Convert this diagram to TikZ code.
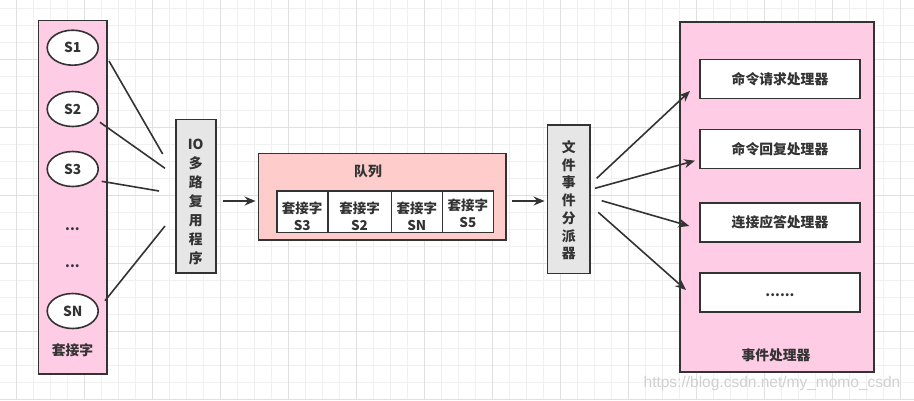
\documentclass[tikz,border=0pt]{standalone}
\usepackage{fontspec}
\setmainfont{Noto Sans CJK SC}
\newfontfamily\wmfont{Liberation Sans}
\usetikzlibrary{arrows.meta,shapes.geometric}
\definecolor{stroke}{HTML}{333333}
\definecolor{pinkfill}{HTML}{FFCCE6}
\definecolor{queuefill}{HTML}{FFCCCC}
\definecolor{grayfill}{HTML}{E6E6E6}
\definecolor{gridminor}{HTML}{F0F0F0}
\definecolor{gridmajor}{HTML}{E0E0E0}
\definecolor{wmcolor}{HTML}{D0D0D0}
\begin{document}
\begin{tikzpicture}[x=1pt,y=-1pt,
  box/.style={draw=stroke, line width=1.6pt, inner sep=0pt, anchor=center},
  lbl/.style={font=\fontsize{13.8}{15}\selectfont\bfseries, text=stroke, inner sep=0pt, align=center},
  cell/.style={lbl, font=\fontsize{13.5}{17}\selectfont\bfseries},
  conn/.style={draw=stroke, line width=1.6pt},
  arr/.style={conn, -{Stealth[length=11pt,width=9pt]}}]
\useasboundingbox (0,0) rectangle (914,400);
\fill[white] (0,0) rectangle (914,400);
% grid
\foreach \i in {0,...,53} {\draw[gridminor, line width=0.8pt] ({16.3+17*\i},0) -- ({16.3+17*\i},400);}
\foreach \i in {0,...,23} {\draw[gridminor, line width=0.8pt] (0,{8.3+17*\i}) -- (914,{8.3+17*\i});}
\foreach \i in {0,...,13} {\draw[gridmajor, line width=0.9pt] ({16.3+68*\i},0) -- ({16.3+68*\i},400);}
\foreach \i in {0,...,5} {\draw[gridmajor, line width=0.9pt] (0,{59.3+68*\i}) -- (914,{59.3+68*\i});}

% sockets column
\node[box, fill=pinkfill, minimum width=68.4pt, minimum height=353.3pt] (col) at (72.5,197.3) {};
\foreach \n/\y/\t in {s1/47.7/S1, s2/109/S2, s3/169/S3, sn/311/SN}
  {\node[box, ellipse, fill=white, minimum width=51pt, minimum height=35pt] (\n) at (72.7,\y) {};
   \node[lbl] (\n t) at (72.7,\y) {\t};}
\node[lbl] (dots1) at (72.5,229) {...};
\node[lbl] (dots2) at (72.5,266) {...};
\node[lbl] (colt) at (72.5,350) {套接字};

% IO box
\node[box, fill=grayfill, minimum width=40pt, minimum height=153.4pt] (io) at (195.7,196) {};
\node[lbl, font=\fontsize{13.8}{19}\selectfont\bfseries] (iot) at (195.7,201.5) {IO\\多\\路\\复\\用\\程\\序};

% socket lines
\coordinate (e1) at (162.7,154);
\coordinate (e2) at (165,168.3);
\coordinate (e3) at (159,191);
\coordinate (e4) at (165,226);
\draw[conn] (109,61) -- (e1);
\draw[conn] (100,122.3) -- (e2);
\draw[conn] (101.7,181.3) -- (e3);
\draw[conn] (105,300.7) -- (e4);

% queue
\node[box, fill=queuefill, minimum width=247.7pt, minimum height=86.7pt] (queue) at (382.2,196.7) {};
\node[lbl] (queuet) at (368,171.7) {队列};
\node[box, fill=white, minimum width=51pt, minimum height=41.7pt] (c1) at (302.2,211.8) {};
\node[box, fill=white, minimum width=63.6pt, minimum height=41.7pt] (c2) at (359.5,211.8) {};
\node[box, fill=white, minimum width=51pt, minimum height=41.7pt] (c3) at (416.8,211.8) {};
\node[box, fill=white, minimum width=51pt, minimum height=41.7pt] (c4) at (467.8,211.8) {};
\node[cell] at (302.2,216) {套接字\\S3};
\node[cell] at (359.5,216) {套接字\\S2};
\node[cell] at (416.8,216) {套接字\\SN};
\node[cell] at (467.8,213) {套接字\\S5};

% dispatcher
\node[box, fill=grayfill, minimum width=42.7pt, minimum height=148.3pt] (disp) at (568.7,199.2) {};
\node[lbl, font=\fontsize{13.8}{17.7}\selectfont\bfseries] (dispt) at (568.7,200.3) {文\\件\\事\\件\\分\\派\\器};

\draw[arr, shorten <=6pt, shorten >=2pt] (io.east |- 0,201) -- (queue.west |- 0,201);
\draw[arr, shorten <=5pt, shorten >=2pt] (queue.east |- 0,201) -- (disp.west |- 0,201);

% handlers
\node[box, fill=pinkfill, minimum width=194pt, minimum height=350pt] (hd) at (777,196.7) {};
\node[box, fill=white, minimum width=160pt, minimum height=39pt] (h1) at (780,78.8) {};
\node[box, fill=white, minimum width=160pt, minimum height=39pt] (h2) at (780,148.8) {};
\node[box, fill=white, minimum width=160pt, minimum height=39pt] (h3) at (780,222.2) {};
\node[box, fill=white, minimum width=160pt, minimum height=39pt] (h4) at (780,292.2) {};
\node[lbl] at (h1) {命令请求处理器};
\node[lbl] at (h2) {命令回复处理器};
\node[lbl] at (h3) {连接应答处理器};
\node[lbl] at ([yshift=-3pt]h4.center) {......};
\node[lbl] (hdt) at (776,355) {事件处理器};

\coordinate (t1) at (690,91);
\coordinate (t2) at (695,160.7);
\coordinate (t3) at (689.3,226);
\coordinate (t4) at (686,290);
\draw[arr] (596.7,178.3) -- (t1);
\draw[arr] (595,188.3) -- (t2);
\draw[arr] (601.7,200.7) -- (t3);
\draw[arr] (598.3,212.3) -- (t4);

\node[text=wmcolor, font=\wmfont\fontsize{15.5}{17}\selectfont, inner sep=0pt] (wm) at (772,383) {https://blog.csdn.net/my\_momo\_csdn};
\end{tikzpicture}
\end{document}
